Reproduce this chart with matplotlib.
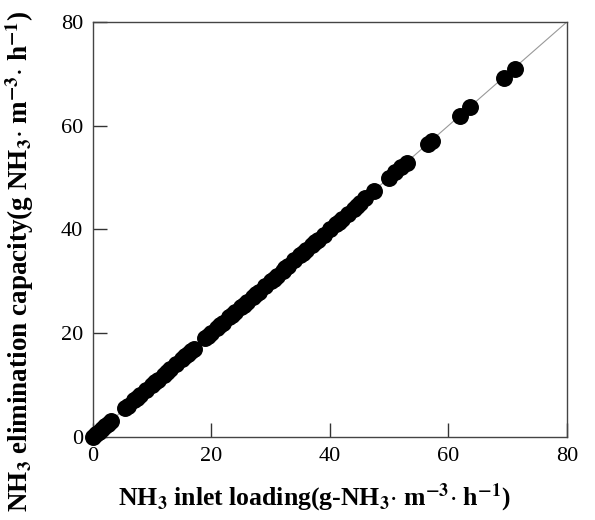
import matplotlib.pyplot as plt

# NH3 inlet loading vs elimination capacity
inlet_loading = [0.0, 0.5, 1.0, 1.5, 2.0, 2.5, 3.0,
                 5.5, 6.0, 7.0, 7.5, 8.0, 9.0, 10.0, 10.5, 11.0, 12.0, 12.5,
                 13.0, 14.0, 15.0, 15.5, 16.0, 16.5, 17.0,
                 19.0, 19.5, 20.0, 21.0, 21.5, 22.0, 23.0, 23.5, 24.0, 25.0,
                 25.5, 26.0, 27.0, 27.5, 28.0, 29.0, 30.0, 30.5, 31.0, 32.0,
                 32.5, 33.0, 34.0, 35.0, 35.5, 36.0, 37.0, 37.5, 38.0, 39.0,
                 40.0, 41.0, 41.5, 42.0, 43.0, 44.0, 44.5, 45.0, 46.0, 47.5,
                 50.0, 51.0, 52.0, 53.0,
                 56.5, 57.2, 61.9, 63.7, 69.4, 71.2]
elimination = [0.0, 0.5, 1.0, 1.5, 2.0, 2.5, 3.0,
               5.5, 6.0, 7.0, 7.5, 8.0, 9.0, 10.0, 10.5, 11.0, 12.0, 12.5,
               13.0, 14.0, 15.0, 15.5, 16.0, 16.5, 17.0,
               19.0, 19.5, 20.0, 21.0, 21.5, 22.0, 23.0, 23.5, 24.0, 25.0,
               25.5, 26.0, 27.0, 27.5, 28.0, 29.0, 30.0, 30.5, 31.0, 32.0,
               32.5, 33.0, 34.0, 35.0, 35.5, 36.0, 37.0, 37.5, 38.0, 39.0,
               40.0, 41.0, 41.5, 42.0, 43.0, 44.0, 44.5, 45.0, 46.0, 47.3,
               49.9, 51.0, 52.0, 52.8,
               56.4, 57.0, 61.8, 63.5, 69.2, 71.0]
ticks = [0, 20, 40, 60, 80]

plt.rcParams['font.family'] = ['Liberation Serif', 'DejaVu Serif']
plt.rcParams['mathtext.fontset'] = 'stix'

fig = plt.figure(figsize=(5.95, 5.20), dpi=100)
ax = fig.add_axes([0.156, 0.160, 0.797, 0.798])

# 1:1 reference line
ax.plot([0, 80], [0, 80], color='#999999', linewidth=0.8, zorder=1)
ax.scatter(inlet_loading, elimination, s=125, color='black', zorder=3,
           clip_on=False)

ax.set_xlim(0, 80)
ax.set_ylim(0, 80)
ax.set_xticks(ticks)
ax.set_yticks(ticks)
ax.tick_params(direction='in', length=10, width=1, labelsize=16, pad=7,
               color='#333333')

for sp in ax.spines.values():
    sp.set_color('#444444')
    sp.set_linewidth(1.0)

ax.set_xlabel(r'NH$_\mathbf{3}$ inlet loading(g-NH$_\mathbf{3}$$\cdot$ m$^\mathbf{-3}$$\cdot$ h$^\mathbf{-1}$)',
              fontsize=18.5, fontweight='bold')
ax.set_ylabel(r'NH$_\mathbf{3}$ elimination capacity(g NH$_\mathbf{3}$$\cdot$ m$^\mathbf{-3}$$\cdot$ h$^\mathbf{-1}$)',
              fontsize=19.5, fontweight='bold')
ax.xaxis.set_label_coords(0.468, -0.108)
ax.yaxis.set_label_coords(-0.12, 0.424)

fig.savefig('out.png', dpi=100)
